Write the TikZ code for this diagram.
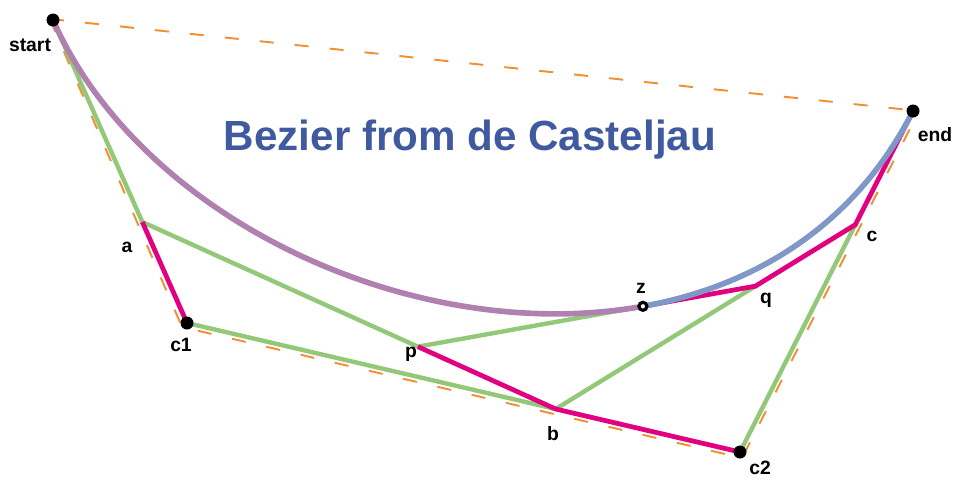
\documentclass[tikz,border=0pt]{standalone}
\usepackage{fontspec}
\setmainfont{Liberation Sans}
\usetikzlibrary{calc}
\definecolor{polygreen}{RGB}{146,200,120}
\definecolor{polymag}{RGB}{224,0,128}
\definecolor{curvepurple}{RGB}{176,128,176}
\definecolor{curveblue}{RGB}{128,152,200}
\definecolor{hullorange}{RGB}{240,144,48}
\definecolor{titleblue}{RGB}{64,90,160}
\begin{document}
\begin{tikzpicture}[x=0.02cm,y=-0.02cm,
		hull/.style={draw=hullorange,line width=1.1pt,dash pattern=on 8pt off 12pt},
		greenleg/.style={draw=polygreen,line width=2.5pt},
		magleg/.style={draw=polymag,line width=2.7pt},
		lbl/.style={font=\bfseries\fontsize{11}{13}\selectfont}]
			%%%%% START %%%%%
			\useasboundingbox (0,0) rectangle (963,495);
			
			\coordinate (start) at (53, 20);
			\coordinate (c1) at (187, 323);
			\coordinate (c2) at (740, 452);
			\coordinate (end) at (913, 111);
			
			\coordinate (a) at ($(start)!2/3!(c1)$);
			\coordinate (b) at ($(c1)!2/3!(c2)$);
			\coordinate (c) at ($(c2)!2/3!(end)$);
			\coordinate (p) at ($(a)!2/3!(b)$);
			\coordinate (q) at ($(b)!2/3!(c)$);
			\coordinate (z) at ($(p)!2/3!(q)$);
			
			% hull, a little outside the control points
			\coordinate (hs) at (50, 19);
			\coordinate (h1) at (182, 327);
			\coordinate (h2) at (742, 458);
			\coordinate (he) at (919, 111);
			\draw[hull] (hs) -- (he);
			\draw[hull] (hs) -- (h1) -- (h2) -- (he);
			
			\draw[greenleg] (start) -- (a) -- (p) -- (z);
			\draw[greenleg] (c1) -- (b) -- (q);
			\draw[greenleg] (c2) -- (c);
			
			\draw[magleg] (a) -- (c1);
			\draw[magleg] (p) -- (b) -- (c2);
			\draw[magleg] (z) -- (q) -- (c) -- (end);
			
			\draw[curvepurple, line width=3.2pt] (start) .. controls (a) and (p) .. (z);
			\draw[curveblue, line width=3.2pt] (z) .. controls (q) and (c) .. (end);
			
			\foreach \pt in {start, c1, c2, end}
				\fill[black] (\pt) circle (6.5);
			\draw[black, fill=white, line width=1.8pt] (z) circle (4);
			
			\node[lbl] (lstart) at (30, 45) {start};
			\node[lbl] (la) at (127, 247) {a};
			\node[lbl] (lc1) at (181, 345) {c1};
			\node[lbl] (lp) at (411, 354) {p};
			\node[lbl] (lb) at (553, 434) {b};
			\node[lbl] (lc2) at (760, 468) {c2};
			\node[lbl] (lq) at (766, 300) {q};
			\node[lbl] (lz) at (641, 288) {z};
			\node[lbl] (lc) at (872, 236) {c};
			\node[lbl] (lend) at (935, 135) {end};
			
			\node[font=\bfseries\fontsize{24}{29}\selectfont, text=titleblue] (title) at (470, 140) {Bezier from de Casteljau};
			%%%%% END %%%%%
\end{tikzpicture}
\end{document}
